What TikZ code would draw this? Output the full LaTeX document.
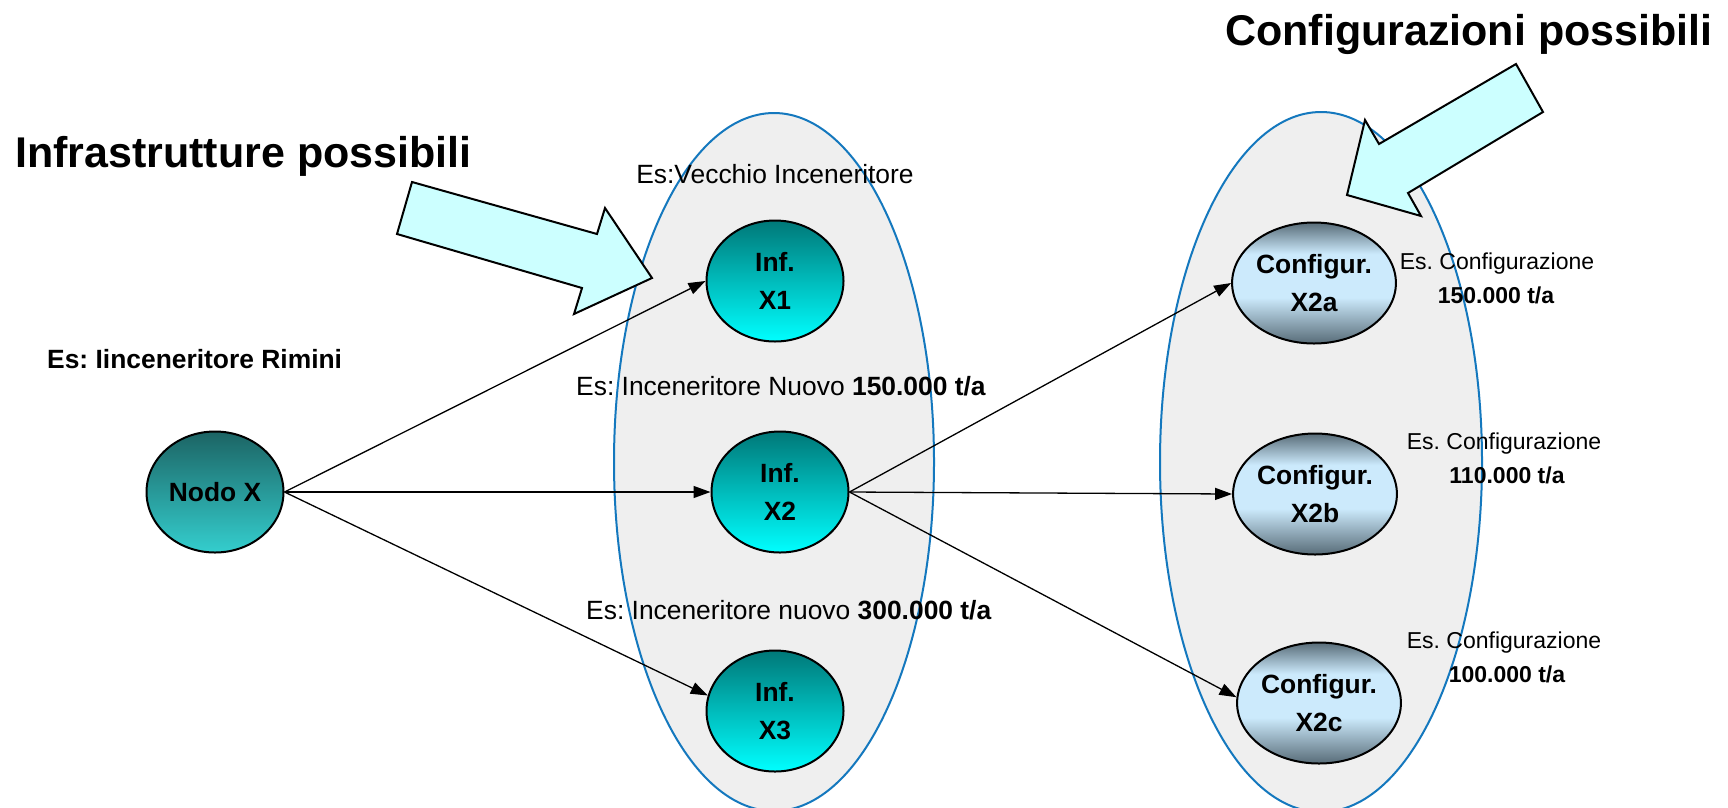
\documentclass[tikz,border=0pt]{standalone}
\usepackage{fontspec}
\setmainfont{Liberation Sans}
\usetikzlibrary{arrows.meta,shapes.geometric}
\definecolor{ellblue}{RGB}{20,120,190}
\definecolor{ellfill}{RGB}{239,239,239}
\definecolor{arrfill}{RGB}{204,255,255}
\definecolor{nxtop}{RGB}{28,100,100}
\definecolor{nxbot}{RGB}{52,206,206}
\definecolor{inftop}{RGB}{0,120,120}
\definecolor{infbot}{RGB}{0,255,255}
\definecolor{cfgdark}{RGB}{88,108,120}
\definecolor{cfglight}{RGB}{204,234,252}
\pgfdeclareverticalshading{cfgshade}{100bp}{color(0bp)=(cfgdark); color(25bp)=(cfgdark); color(44bp)=(cfglight); color(62bp)=(cfglight); color(75bp)=(cfgdark); color(100bp)=(cfgdark)}
\frenchspacing
\begin{document}
\frenchspacing
\begin{tikzpicture}[x=1pt,y=-1pt,
  txt/.style={font=\fontsize{26.4}{32}\selectfont, inner sep=0pt},
  smalltxt/.style={font=\fontsize{23}{28}\selectfont, inner sep=0pt},
  ttl/.style={font=\fontsize{43}{50}\selectfont\bfseries, inner sep=0pt},
  nodebase/.style={ellipse, draw=black, line width=2pt, minimum width=137pt, minimum height=121pt,
    inner sep=0pt, align=center, font=\fontsize{26.4}{38}\selectfont\bfseries},
  nodox/.style={nodebase, top color=nxtop, bottom color=nxbot},
  infnode/.style={nodebase, top color=inftop, bottom color=infbot},
  cfgnode/.style={nodebase, shading=cfgshade},
  bigell/.style={ellipse, draw=ellblue, line width=2pt, fill=ellfill, inner sep=0pt},
  conn/.style={line width=1.3pt, -{Triangle[length=17pt,width=12pt]}},
  blockarrow/.style={draw=black, line width=2pt, fill=arrfill, line join=miter}
]
\useasboundingbox (0,0) rectangle (1728,807);
\fill[white] (0,0) rectangle (1728,807);

% group ellipses
\node[bigell, minimum width=320pt, minimum height=698pt] (grpA) at (774,462) {};
\node[bigell, minimum width=322pt, minimum height=700pt] (grpB) at (1321,462) {};

% titles
\node[ttl, anchor=base west] (t1) at (15,167) {Infrastrutture possibili};
\node[ttl, anchor=base west] (t2) at (1225,45) {Configurazioni possibili};

% labels
\node[txt, font=\fontsize{26.4}{32}\selectfont\bfseries, anchor=base west] (lrim) at (47,368) {Es: Iinceneritore Rimini};
\node[txt, anchor=base] (l1) at (775,183) {Es:Vecchio Inceneritore};
\node[txt, anchor=base west] (l2) at (576,395) {Es: Inceneritore Nuovo \textbf{150.000 t/a}};
\node[txt, anchor=base west] (l3) at (586,619) {Es: Inceneritore nuovo \textbf{300.000 t/a}};

\node[smalltxt, anchor=base] (c1a) at (1497,269) {Es. Configurazione};
\node[smalltxt, anchor=base] (c1b) at (1496,303) {\bfseries 150.000 t/a};
\node[smalltxt, anchor=base] (c2a) at (1504,449) {Es. Configurazione};
\node[smalltxt, anchor=base] (c2b) at (1507,483) {\bfseries 110.000 t/a};
\node[smalltxt, anchor=base] (c3a) at (1504,648) {Es. Configurazione};
\node[smalltxt, anchor=base] (c3b) at (1507,682) {\bfseries 100.000 t/a};

% nodes
\node[nodox] (nx) at (215,492) {Nodo X};
\node[infnode] (x1) at (775,281) {Inf.\\X1};
\node[infnode] (x2) at (780,492) {Inf.\\X2};
\node[infnode] (x3) at (775,711) {Inf.\\X3};
\node[cfgnode] (x2a) at (1314,283) {Configur.\\X2a};
\node[cfgnode] (x2b) at (1315,494) {Configur.\\X2b};
\node[cfgnode] (x2c) at (1319,703) {Configur.\\X2c};

% connectors
\draw[conn] (nx.east) -- (x1.west);
\draw[conn] (nx.east) -- (x2.west);
\draw[conn] (nx.east) -- (x3.167);
\draw[conn] (x2.east) -- (x2a.west);
\draw[conn] (x2.east) -- (x2b.west);
\draw[conn] (x2.east) -- (x2c.176);

% block arrows
\draw[blockarrow] (412,182) -- (597,234) -- (605,208) -- (652,278) -- (574,314) -- (582,288) -- (397,234) -- cycle;
\draw[blockarrow] (1516,64) -- (1543,112) -- (1408,193) -- (1421,216) -- (1347,195) -- (1365,120) -- (1379,144) -- cycle;
\end{tikzpicture}
\end{document}
